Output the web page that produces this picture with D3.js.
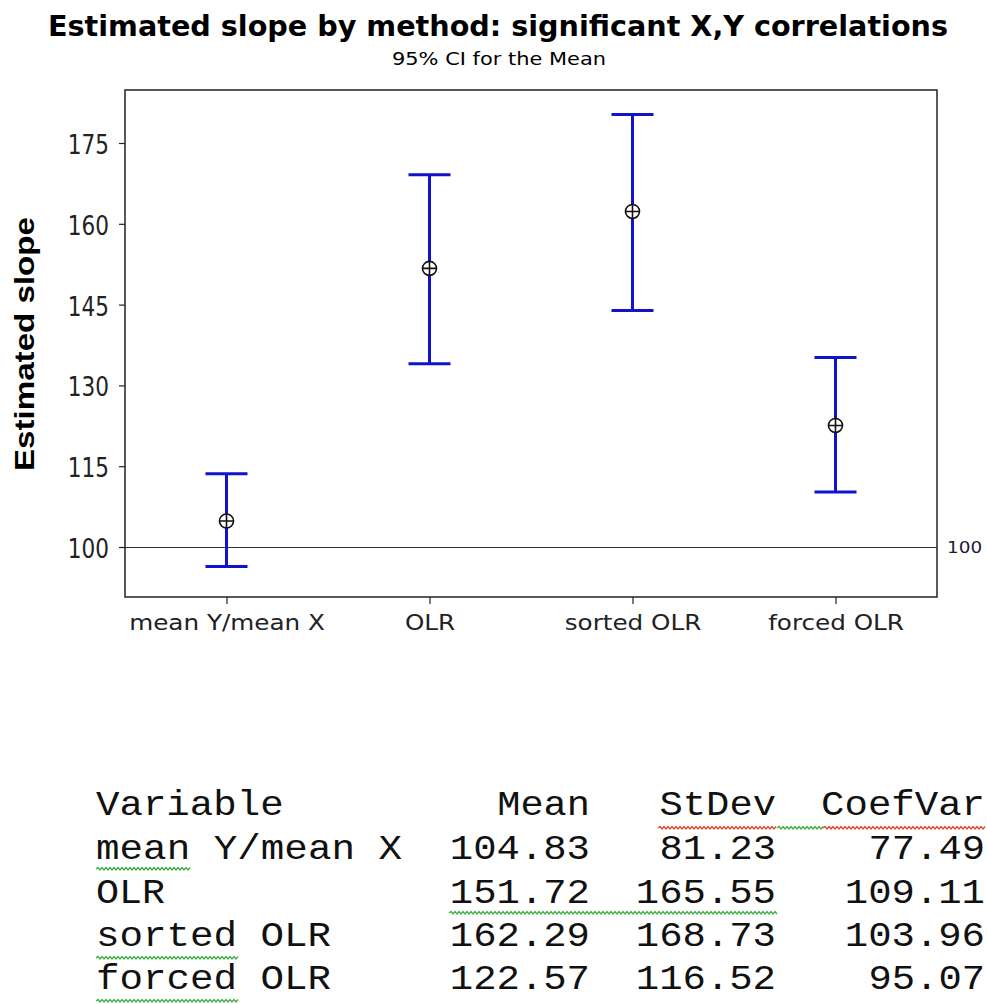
<!DOCTYPE html>
<html>
<head>
<meta charset="utf-8">
<script src="https://cdn.jsdelivr.net/npm/d3@7"></script>
<style>
  body { margin: 0; background: #fff; }
  svg { display: block; }
</style>
</head>
<body>
<svg id="chart" width="987" height="1004"></svg>
<script>
// chart data
var methods = ["mean Y/mean X", "OLR", "sorted OLR", "forced OLR"];
var means = [104.83, 151.72, 162.29, 122.57];
var ciLower = [96.4, 134.0, 143.9, 110.2];
var ciUpper = [113.6, 169.1, 180.3, 135.2];
var yTicks = [100, 115, 130, 145, 160, 175];
var refValue = 100;

// table under the chart
var tableHeaders = ["Variable", "Mean", "StDev", "CoefVar"];
var stdevs = [81.23, 165.55, 168.73, 116.52];
var coefVars = [77.49, 109.11, 103.96, 95.07];

var blue = "#1212cc";

var svg = d3.select("#chart");

var plot = { left: 125, right: 937, top: 90, bottom: 597 };

var x = d3.scalePoint()
    .domain(methods)
    .range([plot.left, plot.right])
    .padding(0.5);

var y = d3.scaleLinear()
    .domain([90.72, 184.84])
    .range([plot.bottom, plot.top]);

function stretch(sel, k) {
    sel.each(function () {
        var w = this.getComputedTextLength();
        d3.select(this).attr("textLength", w * k).attr("lengthAdjust", "spacingAndGlyphs");
    });
}

/*====================================================================
       titles
    ==================================================================*/
svg.append("text")
    .attr("x", 498)
    .attr("y", 36)
    .attr("text-anchor", "middle")
    .attr("font-family", "DejaVu Sans")
    .attr("font-weight", "bold")
    .attr("font-size", 28)
    .attr("textLength", 900)
    .attr("lengthAdjust", "spacingAndGlyphs")
    .text("Estimated slope by method: significant X,Y correlations");

svg.append("text")
    .attr("x", 499)
    .attr("y", 65)
    .attr("text-anchor", "middle")
    .attr("font-family", "DejaVu Sans")
    .attr("font-size", 17)
    .attr("textLength", 214)
    .attr("lengthAdjust", "spacingAndGlyphs")
    .text("95% CI for the Mean");

svg.append("text")
    .attr("transform", "translate(34,344) rotate(-90)")
    .attr("text-anchor", "middle")
    .attr("font-family", "Liberation Sans")
    .attr("font-weight", "bold")
    .attr("font-size", 27)
    .attr("textLength", 254)
    .attr("lengthAdjust", "spacingAndGlyphs")
    .text("Estimated slope");

/*====================================================================
       axes
    ==================================================================*/
var yAxis = svg.append("g")
    .attr("transform", "translate(" + plot.left + ",0)")
    .call(d3.axisLeft(y).tickValues(yTicks).tickSize(6).tickPadding(10));

var xAxis = svg.append("g")
    .attr("transform", "translate(0," + plot.bottom + ")")
    .call(d3.axisBottom(x).tickSize(7).tickPadding(8));

[yAxis, xAxis].forEach(function (ax) {
    ax.select(".domain").remove();
    ax.selectAll(".tick line").attr("stroke", "#222").attr("stroke-width", 1.2);
    ax.selectAll(".tick text")
        .attr("fill", "#222")
        .attr("font-family", "DejaVu Sans")
        .attr("font-size", 22);
});
yAxis.selectAll(".tick text").attr("font-size", 26).attr("dy", "0.4em");
xAxis.selectAll(".tick text").attr("dy", "0.8em");
stretch(yAxis.selectAll(".tick text"), 0.83);
stretch(xAxis.selectAll(".tick text"), 1.12);

// frame
svg.append("rect")
    .attr("x", plot.left)
    .attr("y", plot.top)
    .attr("width", plot.right - plot.left)
    .attr("height", plot.bottom - plot.top)
    .attr("fill", "none")
    .attr("stroke", "#222")
    .attr("stroke-width", 1.5);

// reference line
svg.append("line")
    .attr("x1", plot.left)
    .attr("x2", plot.right)
    .attr("y1", Math.round(y(refValue)) + 0.5)
    .attr("y2", Math.round(y(refValue)) + 0.5)
    .attr("stroke", "#333")
    .attr("stroke-width", 1.2);

var refLabel = svg.append("text")
    .attr("x", plot.right + 10)
    .attr("y", y(refValue) + 6)
    .attr("font-family", "DejaVu Sans")
    .attr("font-size", 16)
    .attr("fill", "#1a1a3a")
    .text(refValue);
stretch(refLabel, 1.15);

/*====================================================================
       error bars
    ==================================================================*/
var capHalf = 21;
var bars = svg.append("g").selectAll("g")
    .data(methods)
    .join("g");

bars.append("line")
    .attr("x1", function (d) { return x(d); })
    .attr("x2", function (d) { return x(d); })
    .attr("y1", function (d, i) { return y(ciLower[i]); })
    .attr("y2", function (d, i) { return y(ciUpper[i]); })
    .attr("stroke", blue)
    .attr("stroke-width", 3);

bars.append("line")
    .attr("x1", function (d) { return x(d) - capHalf; })
    .attr("x2", function (d) { return x(d) + capHalf; })
    .attr("y1", function (d, i) { return y(ciUpper[i]); })
    .attr("y2", function (d, i) { return y(ciUpper[i]); })
    .attr("stroke", blue)
    .attr("stroke-width", 3);

bars.append("line")
    .attr("x1", function (d) { return x(d) - capHalf; })
    .attr("x2", function (d) { return x(d) + capHalf; })
    .attr("y1", function (d, i) { return y(ciLower[i]); })
    .attr("y2", function (d, i) { return y(ciLower[i]); })
    .attr("stroke", blue)
    .attr("stroke-width", 3);

// mean markers: circle with a cross
var r = 7;
bars.append("circle")
    .attr("cx", function (d) { return x(d); })
    .attr("cy", function (d, i) { return y(means[i]); })
    .attr("r", r)
    .attr("fill", "#fff")
    .attr("stroke", "#111")
    .attr("stroke-width", 1.6);

bars.append("path")
    .attr("d", function (d, i) {
        var cx = x(d), cy = y(means[i]);
        return "M" + (cx - r) + "," + cy + "H" + (cx + r) + "M" + cx + "," + (cy - r) + "V" + (cy + r);
    })
    .attr("stroke", "#111")
    .attr("stroke-width", 1.6);

/*====================================================================
       table (monospace print-out)
    ==================================================================*/
var charW = 23.7;
var table = svg.append("g")
    .attr("font-family", "Liberation Mono")
    .attr("font-size", 35)
    .attr("fill", "#111");

function cell(txt, xx, yy, anchor) {
    table.append("text")
        .attr("x", xx)
        .attr("y", yy)
        .attr("text-anchor", anchor)
        .attr("textLength", txt.length * charW - 2)
        .attr("lengthAdjust", "spacingAndGlyphs")
        .text(txt);
}

var nameX = 96;
var colRight = [590, 776, 985];
var rowY = [815, 859, 903, 946, 989];

cell(tableHeaders[0], nameX, rowY[0], "start");
tableHeaders.slice(1).forEach(function (h, j) {
    cell(h, colRight[j], rowY[0], "end");
});

methods.forEach(function (m, i) {
    var ry = rowY[i + 1];
    cell(m, nameX, ry, "start");
    [means[i], stdevs[i], coefVars[i]].forEach(function (v, j) {
        cell(v.toFixed(2), colRight[j], ry, "end");
    });
});

// spell-check squiggles under some words
function squiggle(x0, x1, yy, color) {
    var p = "M" + x0 + "," + yy;
    var up = true;
    for (var xx = x0 + 2; xx <= x1; xx += 2) {
        p += "L" + xx + "," + (up ? yy - 1.5 : yy + 1);
        up = !up;
    }
    svg.append("path")
        .attr("d", p)
        .attr("fill", "none")
        .attr("stroke", color)
        .attr("stroke-width", 1.3);
}
var red = "#e0442c";
var green = "#3fae46";
squiggle(658, 777, 828, red);
squiggle(777, 823, 828, green);
squiggle(823, 985, 828, red);
squiggle(96, 191, 869, green);
squiggle(449, 777, 913, green);
squiggle(96, 238, 958, green);
squiggle(96, 238, 1001, green);
</script>
</body>
</html>
